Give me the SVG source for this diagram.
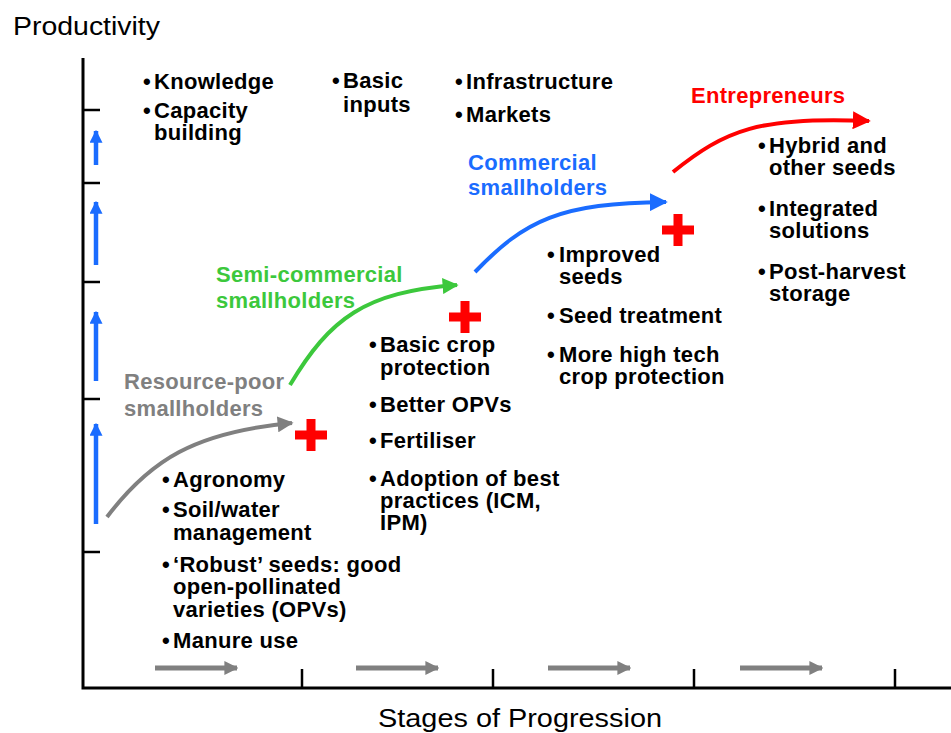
<svg xmlns="http://www.w3.org/2000/svg" width="951" height="733" viewBox="0 0 951 733">
<defs>
<style>
.axis{stroke:#000;stroke-width:3;fill:none}
.tick{stroke:#000;stroke-width:2.5}
.b{font-family:"Liberation Sans",Arial,sans-serif;font-weight:bold;font-size:22px;letter-spacing:0.3px;fill:#000}
.t{font-family:"Liberation Sans",Arial,sans-serif;font-size:25px;fill:#000}
.gray{fill:#808080}.green{fill:#3cc83c}.blue{fill:#1a6cff}.red{fill:#ff0000}
.up{stroke:#1a6cff;stroke-width:4.5}
.prog{stroke:#808080;stroke-width:5}
.curve{fill:none;stroke-width:4}
.plus{fill:#ff0000}
</style>
<marker id="ha-gray" viewBox="0 0 10 10" refX="9" refY="5" markerWidth="16" markerHeight="16" markerUnits="userSpaceOnUse" orient="auto"><path d="M0,0 L10,5 L0,10 z" fill="#808080"/></marker>
<marker id="ha-green" viewBox="0 0 10 10" refX="9" refY="5" markerWidth="16" markerHeight="16" markerUnits="userSpaceOnUse" orient="auto"><path d="M0,0 L10,5 L0,10 z" fill="#3cc83c"/></marker>
<marker id="ha-blue" viewBox="0 0 10 10" refX="9" refY="5" markerWidth="18" markerHeight="18" markerUnits="userSpaceOnUse" orient="auto"><path d="M0,0 L10,5 L0,10 z" fill="#1a6cff"/></marker>
<marker id="ha-red" viewBox="0 0 10 10" refX="9" refY="5" markerWidth="18" markerHeight="18" markerUnits="userSpaceOnUse" orient="auto"><path d="M0,0 L10,5 L0,10 z" fill="#ff0000"/></marker>
<marker id="ha-up" viewBox="0 0 10 10" refX="9" refY="5" markerWidth="13" markerHeight="13" markerUnits="userSpaceOnUse" orient="auto"><path d="M0,0 L10,5 L0,10 z" fill="#1a6cff"/></marker>
<marker id="ha-prog" viewBox="0 0 10 10" refX="9" refY="5" markerWidth="14" markerHeight="14" markerUnits="userSpaceOnUse" orient="auto"><path d="M0,0 L10,5 L0,10 z" fill="#808080"/></marker>
<path id="plusShape" d="M-4.5,-16 h9 v11.5 h11.5 v9 h-11.5 v11.5 h-9 v-11.5 h-11.5 v-9 h11.5 z"/>
</defs>
<rect width="951" height="733" fill="#fff"/>

<g id="axes">
<path class="axis" d="M83,58 V688 H951"/>
<g class="tick">
<line x1="83" y1="110" x2="100" y2="110"/>
<line x1="83" y1="183" x2="100" y2="183"/>
<line x1="83" y1="282" x2="100" y2="282"/>
<line x1="83" y1="399" x2="100" y2="399"/>
<line x1="83" y1="552" x2="100" y2="552"/>
<line x1="302" y1="688" x2="302" y2="669"/>
<line x1="493" y1="688" x2="493" y2="669"/>
<line x1="694" y1="688" x2="694" y2="669"/>
<line x1="895" y1="688" x2="895" y2="669"/>
</g>
<text class="t" x="13" y="35" textLength="147" lengthAdjust="spacingAndGlyphs">Productivity</text>
<text class="t" x="378" y="727" textLength="284" lengthAdjust="spacingAndGlyphs">Stages of Progression</text>
</g>

<g id="productivity-arrows">
<line class="up" x1="96" y1="165" x2="96" y2="131" marker-end="url(#ha-up)"/>
<line class="up" x1="96" y1="265" x2="96" y2="202" marker-end="url(#ha-up)"/>
<line class="up" x1="96" y1="381" x2="96" y2="312" marker-end="url(#ha-up)"/>
<line class="up" x1="96" y1="524" x2="96" y2="424" marker-end="url(#ha-up)"/>
</g>

<g id="progression-arrows">
<line class="prog" x1="155" y1="668" x2="237" y2="668" marker-end="url(#ha-prog)"/>
<line class="prog" x1="356" y1="668" x2="438" y2="668" marker-end="url(#ha-prog)"/>
<line class="prog" x1="548" y1="668" x2="630" y2="668" marker-end="url(#ha-prog)"/>
<line class="prog" x1="740" y1="668" x2="822" y2="668" marker-end="url(#ha-prog)"/>
</g>

<g id="connectors">
<path class="curve" stroke="#808080" d="M107,517 C150,460 195,432 292,423" marker-end="url(#ha-gray)"/>
<path class="curve" stroke="#3cc83c" d="M290,385 C330,318 365,292 457,285" marker-end="url(#ha-green)"/>
<path class="curve" stroke="#1a6cff" d="M475,272 C525,220 560,203 666,202" marker-end="url(#ha-blue)"/>
<path class="curve" stroke="#ff0000" d="M673,172 C725,130 760,116 869,121" marker-end="url(#ha-red)"/>
</g>

<g id="plus-signs" class="plus">
<use href="#plusShape" x="311" y="435"/>
<use href="#plusShape" x="465" y="317"/>
<use href="#plusShape" x="678" y="230"/>
</g>

<g id="enablers-knowledge" class="b">
<text x="143" y="89">•<tspan x="154">Knowledge</tspan></text>
<text x="143" y="118">•<tspan x="154">Capacity</tspan><tspan x="154" y="140">building</tspan></text>
</g>
<g id="enablers-inputs" class="b">
<text x="332" y="88">•<tspan x="343">Basic</tspan><tspan x="343" y="112">inputs</tspan></text>
</g>
<g id="enablers-markets" class="b">
<text x="455" y="89">•<tspan x="466">Infrastructure</tspan></text>
<text x="455" y="122">•<tspan x="466">Markets</tspan></text>
</g>

<g id="stage-resource-poor">
<text class="b gray" x="124" y="389">Resource-poor<tspan x="124" y="416">smallholders</tspan></text>
<g class="b">
<text x="162" y="487">•<tspan x="173">Agronomy</tspan></text>
<text x="162" y="517">•<tspan x="173">Soil/water</tspan><tspan x="173" y="540">management</tspan></text>
<text x="162" y="572">•<tspan x="173">‘Robust’ seeds: good</tspan><tspan x="173" y="594">open-pollinated</tspan><tspan x="173" y="617">varieties (OPVs)</tspan></text>
<text x="162" y="648">•<tspan x="173">Manure use</tspan></text>
</g>
</g>

<g id="stage-semi-commercial">
<text class="b green" x="216" y="282">Semi-commercial<tspan x="216" y="308">smallholders</tspan></text>
<g class="b">
<text x="369" y="352">•<tspan x="380">Basic crop</tspan><tspan x="380" y="375">protection</tspan></text>
<text x="369" y="412">•<tspan x="380">Better OPVs</tspan></text>
<text x="369" y="448">•<tspan x="380">Fertiliser</tspan></text>
<text x="369" y="486">•<tspan x="380">Adoption of best</tspan><tspan x="380" y="508">practices (ICM,</tspan><tspan x="380" y="530">IPM)</tspan></text>
</g>
</g>

<g id="stage-commercial">
<text class="b blue" x="468" y="170">Commercial<tspan x="468" y="195">smallholders</tspan></text>
<g class="b">
<text x="547" y="262">•<tspan x="559">Improved</tspan><tspan x="559" y="284">seeds</tspan></text>
<text x="547" y="323">•<tspan x="559">Seed treatment</tspan></text>
<text x="547" y="362">•<tspan x="559">More high tech</tspan><tspan x="559" y="384">crop protection</tspan></text>
</g>
</g>

<g id="stage-entrepreneurs">
<text class="b red" x="691" y="103">Entrepreneurs</text>
<g class="b">
<text x="758" y="153">•<tspan x="769">Hybrid and</tspan><tspan x="769" y="175">other seeds</tspan></text>
<text x="758" y="216">•<tspan x="769">Integrated</tspan><tspan x="769" y="238">solutions</tspan></text>
<text x="758" y="279">•<tspan x="769">Post-harvest</tspan><tspan x="769" y="301">storage</tspan></text>
</g>
</g>
</svg>
